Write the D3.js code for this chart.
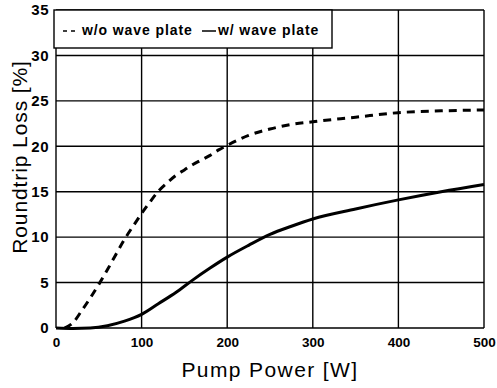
<!DOCTYPE html>
<html>
<head>
<meta charset="utf-8">
<script src="https://cdn.jsdelivr.net/npm/d3@7"></script>
<style>
  html, body { margin: 0; padding: 0; background: #fff; }
  svg { display: block; }
</style>
</head>
<body>
<svg id="chart" width="497" height="388"></svg>
<script>
// ---- data ----
const powerWithout = [10, 20, 30, 40, 50, 60, 70, 80, 90, 100, 110, 120, 130, 140, 150, 160, 170, 180, 190, 200, 225, 250, 275, 300, 350, 400, 450, 500];
const lossWithout  = [0, 0.6, 1.9, 3.3, 4.8, 6.4, 8.1, 9.75, 11.2, 12.6, 13.9, 15.1, 16.0, 16.8, 17.4, 18.0, 18.5, 19.0, 19.6, 20.1, 21.2, 21.9, 22.4, 22.7, 23.2, 23.7, 23.9, 24.0];
const powerWith = [0, 20, 40, 60, 80, 100, 120, 140, 160, 180, 200, 225, 250, 275, 300, 350, 400, 450, 500];
const lossWith  = [0, -0.05, 0, 0.25, 0.75, 1.5, 2.7, 3.9, 5.3, 6.6, 7.8, 9.1, 10.3, 11.2, 12.0, 13.1, 14.1, 15.0, 15.8];
const xTicks = [0, 100, 200, 300, 400, 500];
const yTicks = [0, 5, 10, 15, 20, 25, 30, 35];
const seriesNames = ["w/o wave plate", "w/ wave plate"];

// ---- layout ----
const svg = d3.select("#chart");
const mLeft = 56, mRight = 484, mTop = 10, mBottom = 328;
const x = d3.scaleLinear().domain([0, 500]).range([mLeft, mRight]);
const y = d3.scaleLinear().domain([0, 35]).range([mBottom, mTop]);
const font = "'Liberation Sans', Arial, sans-serif";

// grid
const grid = svg.append("g").attr("stroke", "#000").attr("stroke-width", 1.4);
grid.selectAll(".vg").data(xTicks).join("line")
  .attr("x1", d => x(d)).attr("x2", d => x(d))
  .attr("y1", y(0)).attr("y2", y(35));
grid.selectAll(".hg").data(yTicks).join("line")
  .attr("x1", x(0)).attr("x2", x(500))
  .attr("y1", d => y(d)).attr("y2", d => y(d));

// axes (labels only; frame is drawn by the grid)
const xAxis = d3.axisBottom(x).tickValues(xTicks).tickSize(0).tickPadding(9);
const gx = svg.append("g").attr("transform", `translate(0,${mBottom})`).call(xAxis);
gx.select(".domain").remove();
gx.selectAll("text").attr("font-family", font).attr("font-weight", "bold")
  .attr("font-size", 13.5).attr("fill", "#000");

const yAxis = d3.axisLeft(y).tickValues(yTicks).tickSize(0).tickPadding(7);
const gy = svg.append("g").attr("transform", `translate(${mLeft},0)`).call(yAxis);
gy.select(".domain").remove();
gy.selectAll("text").attr("font-family", font).attr("font-weight", "bold")
  .attr("font-size", 15).attr("letter-spacing", 0.5).attr("fill", "#000");

// lines
const line = d3.line().x(d => x(d[0])).y(d => y(d[1])).curve(d3.curveMonotoneX);
const dataWithout = powerWithout.map((p, i) => [p, lossWithout[i]]);
const dataWith = powerWith.map((p, i) => [p, lossWith[i]]);

svg.append("path").datum(dataWithout).attr("d", line)
  .attr("fill", "none").attr("stroke", "#000").attr("stroke-width", 3)
  .attr("stroke-dasharray", "8,6");
svg.append("path").datum(dataWith).attr("d", line)
  .attr("fill", "none").attr("stroke", "#000").attr("stroke-width", 3);

// legend
const lg = svg.append("g");
lg.append("rect").attr("x", 54).attr("y", 10).attr("width", 278).attr("height", 38)
  .attr("fill", "#fff").attr("stroke", "#000").attr("stroke-width", 1.4);
lg.append("line").attr("x1", 63).attr("x2", 79).attr("y1", 31).attr("y2", 31)
  .attr("stroke", "#000").attr("stroke-width", 1.5).attr("stroke-dasharray", "4,4");
lg.append("text").attr("x", 82).attr("y", 35).text(seriesNames[0])
  .attr("font-family", font).attr("font-weight", "bold").attr("font-size", 14)
  .attr("letter-spacing", 0.9);
lg.append("line").attr("x1", 202).attr("x2", 216).attr("y1", 31).attr("y2", 31)
  .attr("stroke", "#000").attr("stroke-width", 1.5);
lg.append("text").attr("x", 218).attr("y", 35).text(seriesNames[1])
  .attr("font-family", font).attr("font-weight", "bold").attr("font-size", 14)
  .attr("letter-spacing", 0.9);

// titles
svg.append("text").attr("x", 270).attr("y", 377).attr("text-anchor", "middle")
  .attr("font-family", font).attr("font-size", 21).attr("letter-spacing", 1.4)
  .text("Pump Power [W]");
svg.append("text").attr("transform", "translate(27,157) rotate(-90)")
  .attr("text-anchor", "middle")
  .attr("font-family", font).attr("font-size", 21).attr("letter-spacing", 0.9)
  .text("Roundtrip Loss [%]");
</script>
</body>
</html>
